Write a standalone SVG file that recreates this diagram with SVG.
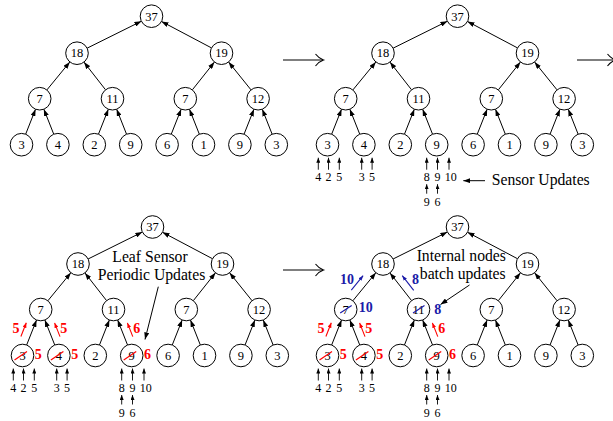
<svg xmlns="http://www.w3.org/2000/svg" xmlns:xlink="http://www.w3.org/1999/xlink" width="613" height="421" viewBox="0 0 613 421">
<defs>
<style>
.n circle{fill:#fff;stroke:#000;stroke-width:1}
.n text{font-family:"Liberation Serif",serif;font-size:12.5px;text-anchor:middle;fill:#000}
.e line{stroke:#000;stroke-width:1;marker-end:url(#ah)}
.sa line{stroke:#000;stroke-width:0.9;marker-end:url(#ahs)}
.sd text{font-family:"Liberation Serif",serif;font-size:12px;text-anchor:middle;fill:#000}
.lbl{font-family:"Liberation Serif",serif;font-size:15.7px;fill:#000}
.rt{font-family:"Liberation Serif",serif;font-size:14px;font-weight:bold;fill:#f00;text-anchor:middle}
.bt{font-family:"Liberation Serif",serif;font-size:14px;font-weight:bold;fill:#1a1aa8;text-anchor:middle}
.ra{stroke:#f00;stroke-width:1.1;marker-end:url(#ahr)}
.ba{stroke:#1a1aa8;stroke-width:1.1;marker-end:url(#ahb)}
.rs{stroke:#f00;stroke-width:1.2}
.bs{stroke:#1a1aa8;stroke-width:1.2}
.big{fill:none;stroke:#000;stroke-width:1.1}
</style>
<marker id="ah" markerUnits="userSpaceOnUse" markerWidth="7" markerHeight="5" refX="7" refY="2.5" orient="auto"><path d="M0,0 L7,2.5 L0,5 z" fill="#000"/></marker>
<marker id="ahs" markerUnits="userSpaceOnUse" markerWidth="5" markerHeight="4" refX="5" refY="2" orient="auto"><path d="M0,0 L5,2 L0,4 z" fill="#000"/></marker>
<marker id="ahr" markerUnits="userSpaceOnUse" markerWidth="5" markerHeight="4" refX="5" refY="2" orient="auto"><path d="M0,0 L5,2 L0,4 z" fill="#f00"/></marker>
<marker id="ahb" markerUnits="userSpaceOnUse" markerWidth="5" markerHeight="4" refX="5" refY="2" orient="auto"><path d="M0,0 L5,2 L0,4 z" fill="#1a1aa8"/></marker>
</defs>
<rect width="613" height="421" fill="#fff"/>

<g id="connectors">
<g class="e" transform="translate(21.5,16.2)">
<line x1="65.62" y1="31.97" x2="119.88" y2="5.03"/><line x1="190.01" y1="31.72" x2="139.99" y2="5.28"/>
<line x1="25.36" y1="73.76" x2="48.34" y2="45.74"/><line x1="84.05" y1="73.59" x2="62.45" y2="45.91"/>
<line x1="170.84" y1="73.66" x2="192.96" y2="45.84"/><line x1="229.52" y1="73.69" x2="207.08" y2="45.81"/>
<line x1="4.16" y1="117.99" x2="14.04" y2="93.01"/><line x1="32.24" y1="117.99" x2="22.36" y2="93.01"/>
<line x1="76.96" y1="117.99" x2="86.84" y2="93.01"/><line x1="105.04" y1="117.99" x2="95.16" y2="93.01"/>
<line x1="149.76" y1="117.99" x2="159.64" y2="93.01"/><line x1="177.84" y1="117.99" x2="167.96" y2="93.01"/>
<line x1="222.56" y1="117.99" x2="232.44" y2="93.01"/><line x1="250.64" y1="117.99" x2="240.76" y2="93.01"/>
</g>
<g class="e" transform="translate(327.5,16.2)">
<line x1="65.62" y1="31.97" x2="119.88" y2="5.03"/><line x1="190.01" y1="31.72" x2="139.99" y2="5.28"/>
<line x1="25.36" y1="73.76" x2="48.34" y2="45.74"/><line x1="84.05" y1="73.59" x2="62.45" y2="45.91"/>
<line x1="170.84" y1="73.66" x2="192.96" y2="45.84"/><line x1="229.52" y1="73.69" x2="207.08" y2="45.81"/>
<line x1="4.16" y1="117.99" x2="14.04" y2="93.01"/><line x1="32.24" y1="117.99" x2="22.36" y2="93.01"/>
<line x1="76.96" y1="117.99" x2="86.84" y2="93.01"/><line x1="105.04" y1="117.99" x2="95.16" y2="93.01"/>
<line x1="149.76" y1="117.99" x2="159.64" y2="93.01"/><line x1="177.84" y1="117.99" x2="167.96" y2="93.01"/>
<line x1="222.56" y1="117.99" x2="232.44" y2="93.01"/><line x1="250.64" y1="117.99" x2="240.76" y2="93.01"/>
</g>
<g class="e" transform="translate(22.5,227)">
<line x1="65.62" y1="31.97" x2="119.88" y2="5.03"/><line x1="190.01" y1="31.72" x2="139.99" y2="5.28"/>
<line x1="25.36" y1="73.76" x2="48.34" y2="45.74"/><line x1="84.05" y1="73.59" x2="62.45" y2="45.91"/>
<line x1="170.84" y1="73.66" x2="192.96" y2="45.84"/><line x1="229.52" y1="73.69" x2="207.08" y2="45.81"/>
<line x1="4.16" y1="117.99" x2="14.04" y2="93.01"/><line x1="32.24" y1="117.99" x2="22.36" y2="93.01"/>
<line x1="76.96" y1="117.99" x2="86.84" y2="93.01"/><line x1="105.04" y1="117.99" x2="95.16" y2="93.01"/>
<line x1="149.76" y1="117.99" x2="159.64" y2="93.01"/><line x1="177.84" y1="117.99" x2="167.96" y2="93.01"/>
<line x1="222.56" y1="117.99" x2="232.44" y2="93.01"/><line x1="250.64" y1="117.99" x2="240.76" y2="93.01"/>
</g>
<g class="e" transform="translate(327.5,227)">
<line x1="65.62" y1="31.97" x2="119.88" y2="5.03"/><line x1="190.01" y1="31.72" x2="139.99" y2="5.28"/>
<line x1="25.36" y1="73.76" x2="48.34" y2="45.74"/><line x1="84.05" y1="73.59" x2="62.45" y2="45.91"/>
<line x1="170.84" y1="73.66" x2="192.96" y2="45.84"/><line x1="229.52" y1="73.69" x2="207.08" y2="45.81"/>
<line x1="4.16" y1="117.99" x2="14.04" y2="93.01"/><line x1="32.24" y1="117.99" x2="22.36" y2="93.01"/>
<line x1="76.96" y1="117.99" x2="86.84" y2="93.01"/><line x1="105.04" y1="117.99" x2="95.16" y2="93.01"/>
<line x1="149.76" y1="117.99" x2="159.64" y2="93.01"/><line x1="177.84" y1="117.99" x2="167.96" y2="93.01"/>
<line x1="222.56" y1="117.99" x2="232.44" y2="93.01"/><line x1="250.64" y1="117.99" x2="240.76" y2="93.01"/>
</g>
</g>

<g id="tree1" transform="translate(21.5,16.2)">
<g id="t1-root" class="n"><circle cx="130" cy="0" r="11.3"/><text x="130" y="4.3">37</text></g>
<g id="t1-a" class="n"><circle cx="55.5" cy="37" r="11.3"/><text x="55.5" y="41.3">18</text></g>
<g id="t1-b" class="n"><circle cx="200" cy="37" r="11.3"/><text x="200" y="41.3">19</text></g>
<g id="t1-c" class="n"><circle cx="18.2" cy="82.5" r="11.3"/><text x="18.2" y="86.8">7</text></g>
<g id="t1-d" class="n"><circle cx="91" cy="82.5" r="11.3"/><text x="91" y="86.8">11</text></g>
<g id="t1-e" class="n"><circle cx="163.8" cy="82.5" r="11.3"/><text x="163.8" y="86.8">7</text></g>
<g id="t1-f" class="n"><circle cx="236.6" cy="82.5" r="11.3"/><text x="236.6" y="86.8">12</text></g>
<g id="t1-l0" class="n"><circle cx="0" cy="128.5" r="11.3"/><text x="0" y="132.8">3</text></g>
<g id="t1-l1" class="n"><circle cx="36.4" cy="128.5" r="11.3"/><text x="36.4" y="132.8">4</text></g>
<g id="t1-l2" class="n"><circle cx="72.8" cy="128.5" r="11.3"/><text x="72.8" y="132.8">2</text></g>
<g id="t1-l3" class="n"><circle cx="109.2" cy="128.5" r="11.3"/><text x="109.2" y="132.8">9</text></g>
<g id="t1-l4" class="n"><circle cx="145.6" cy="128.5" r="11.3"/><text x="145.6" y="132.8">6</text></g>
<g id="t1-l5" class="n"><circle cx="182" cy="128.5" r="11.3"/><text x="182" y="132.8">1</text></g>
<g id="t1-l6" class="n"><circle cx="218.4" cy="128.5" r="11.3"/><text x="218.4" y="132.8">9</text></g>
<g id="t1-l7" class="n"><circle cx="254.8" cy="128.5" r="11.3"/><text x="254.8" y="132.8">3</text></g>
</g>

<g id="tree2" transform="translate(327.5,16.2)">
<g id="t2-root" class="n"><circle cx="130" cy="0" r="11.3"/><text x="130" y="4.3">37</text></g>
<g id="t2-a" class="n"><circle cx="55.5" cy="37" r="11.3"/><text x="55.5" y="41.3">18</text></g>
<g id="t2-b" class="n"><circle cx="200" cy="37" r="11.3"/><text x="200" y="41.3">19</text></g>
<g id="t2-c" class="n"><circle cx="18.2" cy="82.5" r="11.3"/><text x="18.2" y="86.8">7</text></g>
<g id="t2-d" class="n"><circle cx="91" cy="82.5" r="11.3"/><text x="91" y="86.8">11</text></g>
<g id="t2-e" class="n"><circle cx="163.8" cy="82.5" r="11.3"/><text x="163.8" y="86.8">7</text></g>
<g id="t2-f" class="n"><circle cx="236.6" cy="82.5" r="11.3"/><text x="236.6" y="86.8">12</text></g>
<g id="t2-l0" class="n"><circle cx="0" cy="128.5" r="11.3"/><text x="0" y="132.8">3</text></g>
<g id="t2-l1" class="n"><circle cx="36.4" cy="128.5" r="11.3"/><text x="36.4" y="132.8">4</text></g>
<g id="t2-l2" class="n"><circle cx="72.8" cy="128.5" r="11.3"/><text x="72.8" y="132.8">2</text></g>
<g id="t2-l3" class="n"><circle cx="109.2" cy="128.5" r="11.3"/><text x="109.2" y="132.8">9</text></g>
<g id="t2-l4" class="n"><circle cx="145.6" cy="128.5" r="11.3"/><text x="145.6" y="132.8">6</text></g>
<g id="t2-l5" class="n"><circle cx="182" cy="128.5" r="11.3"/><text x="182" y="132.8">1</text></g>
<g id="t2-l6" class="n"><circle cx="218.4" cy="128.5" r="11.3"/><text x="218.4" y="132.8">9</text></g>
<g id="t2-l7" class="n"><circle cx="254.8" cy="128.5" r="11.3"/><text x="254.8" y="132.8">3</text></g>
<g id="t2-sensors">
<g class="sa">
<line x1="-9.2" y1="153.5" x2="-9.2" y2="141.5"/><line x1="1" y1="153.5" x2="1" y2="141.5"/><line x1="11.8" y1="153.5" x2="11.8" y2="141.5"/>
<line x1="34.2" y1="153.5" x2="34.2" y2="141.5"/><line x1="44.6" y1="153.5" x2="44.6" y2="141.5"/>
<line x1="99.2" y1="153.5" x2="99.2" y2="141.5"/><line x1="110" y1="153.5" x2="110" y2="141.5"/><line x1="121.5" y1="153.5" x2="121.5" y2="141.5"/>
<line x1="99.2" y1="177.5" x2="99.2" y2="168"/><line x1="110" y1="177.5" x2="110" y2="168"/>
</g>
<g class="sd">
<text x="-9.2" y="164.8">4</text><text x="1" y="164.8">2</text><text x="11.8" y="164.8">5</text>
<text x="34.2" y="164.8">3</text><text x="44.6" y="164.8">5</text>
<text x="99.2" y="164.8">8</text><text x="110" y="164.8">9</text><text x="123.2" y="164.8">10</text>
<text x="99.2" y="189.5">9</text><text x="110" y="189.5">6</text>
</g>
</g>
</g>

<g id="tree3" transform="translate(22.5,227)">
<g id="t3-root" class="n"><circle cx="130" cy="0" r="11.3"/><text x="130" y="4.3">37</text></g>
<g id="t3-a" class="n"><circle cx="55.5" cy="37" r="11.3"/><text x="55.5" y="41.3">18</text></g>
<g id="t3-b" class="n"><circle cx="200" cy="37" r="11.3"/><text x="200" y="41.3">19</text></g>
<g id="t3-c" class="n"><circle cx="18.2" cy="82.5" r="11.3"/><text x="18.2" y="86.8">7</text></g>
<g id="t3-d" class="n"><circle cx="91" cy="82.5" r="11.3"/><text x="91" y="86.8">11</text></g>
<g id="t3-e" class="n"><circle cx="163.8" cy="82.5" r="11.3"/><text x="163.8" y="86.8">7</text></g>
<g id="t3-f" class="n"><circle cx="236.6" cy="82.5" r="11.3"/><text x="236.6" y="86.8">12</text></g>
<g id="t3-l0" class="n"><circle cx="0" cy="128.5" r="11.3"/><text x="0" y="132.8">3</text><line class="rs" x1="-8" y1="133" x2="4.5" y2="124.5"/></g>
<g id="t3-l1" class="n"><circle cx="36.4" cy="128.5" r="11.3"/><text x="36.4" y="132.8">4</text><line class="rs" x1="28.4" y1="133" x2="40.9" y2="124.5"/></g>
<g id="t3-l2" class="n"><circle cx="72.8" cy="128.5" r="11.3"/><text x="72.8" y="132.8">2</text></g>
<g id="t3-l3" class="n"><circle cx="109.2" cy="128.5" r="11.3"/><text x="109.2" y="132.8">9</text><line class="rs" x1="101.2" y1="133" x2="113.7" y2="124.5"/></g>
<g id="t3-l4" class="n"><circle cx="145.6" cy="128.5" r="11.3"/><text x="145.6" y="132.8">6</text></g>
<g id="t3-l5" class="n"><circle cx="182" cy="128.5" r="11.3"/><text x="182" y="132.8">1</text></g>
<g id="t3-l6" class="n"><circle cx="218.4" cy="128.5" r="11.3"/><text x="218.4" y="132.8">9</text></g>
<g id="t3-l7" class="n"><circle cx="254.8" cy="128.5" r="11.3"/><text x="254.8" y="132.8">3</text></g>
<g id="t3-sensors">
<g class="sa">
<line x1="-9.2" y1="153.5" x2="-9.2" y2="141.5"/><line x1="1" y1="153.5" x2="1" y2="141.5"/><line x1="11.8" y1="153.5" x2="11.8" y2="141.5"/>
<line x1="34.2" y1="153.5" x2="34.2" y2="141.5"/><line x1="44.6" y1="153.5" x2="44.6" y2="141.5"/>
<line x1="99.2" y1="153.5" x2="99.2" y2="141.5"/><line x1="110" y1="153.5" x2="110" y2="141.5"/><line x1="121.5" y1="153.5" x2="121.5" y2="141.5"/>
<line x1="99.2" y1="177.5" x2="99.2" y2="168"/><line x1="110" y1="177.5" x2="110" y2="168"/>
</g>
<g class="sd">
<text x="-9.2" y="164.8">4</text><text x="1" y="164.8">2</text><text x="11.8" y="164.8">5</text>
<text x="34.2" y="164.8">3</text><text x="44.6" y="164.8">5</text>
<text x="99.2" y="164.8">8</text><text x="110" y="164.8">9</text><text x="123.2" y="164.8">10</text>
<text x="99.2" y="189.5">9</text><text x="110" y="189.5">6</text>
</g>
</g>
<g id="t3-updates">
<line class="ra" x1="-1.6" y1="109.5" x2="3.8" y2="95.8"/>
<line class="ra" x1="37.5" y1="109.6" x2="32.1" y2="95.9"/>
<line class="ra" x1="110.3" y1="109.6" x2="104.9" y2="95.9"/>
<text class="rt" x="-6.4" y="106">5</text><text class="rt" x="41.3" y="106">5</text><text class="rt" x="114.2" y="106">6</text>
<text class="rt" x="15.8" y="132">5</text><text class="rt" x="52.2" y="132">5</text><text class="rt" x="125" y="132">6</text>
</g>
</g>

<g id="tree4" transform="translate(327.5,227)">
<g id="t4-root" class="n"><circle cx="130" cy="0" r="11.3"/><text x="130" y="4.3">37</text></g>
<g id="t4-a" class="n"><circle cx="55.5" cy="37" r="11.3"/><text x="55.5" y="41.3">18</text></g>
<g id="t4-b" class="n"><circle cx="200" cy="37" r="11.3"/><text x="200" y="41.3">19</text></g>
<g id="t4-c" class="n"><circle cx="18.2" cy="82.5" r="11.3"/><text x="18.2" y="86.8">7</text><line class="bs" x1="12.7" y1="86" x2="24.2" y2="78.5"/></g>
<g id="t4-d" class="n"><circle cx="91" cy="82.5" r="11.3"/><text x="91" y="86.8">11</text><line class="bs" x1="85.5" y1="86" x2="97" y2="78.5"/></g>
<g id="t4-e" class="n"><circle cx="163.8" cy="82.5" r="11.3"/><text x="163.8" y="86.8">7</text></g>
<g id="t4-f" class="n"><circle cx="236.6" cy="82.5" r="11.3"/><text x="236.6" y="86.8">12</text></g>
<g id="t4-l0" class="n"><circle cx="0" cy="128.5" r="11.3"/><text x="0" y="132.8">3</text><line class="rs" x1="-8" y1="133" x2="4.5" y2="124.5"/></g>
<g id="t4-l1" class="n"><circle cx="36.4" cy="128.5" r="11.3"/><text x="36.4" y="132.8">4</text><line class="rs" x1="28.4" y1="133" x2="40.9" y2="124.5"/></g>
<g id="t4-l2" class="n"><circle cx="72.8" cy="128.5" r="11.3"/><text x="72.8" y="132.8">2</text></g>
<g id="t4-l3" class="n"><circle cx="109.2" cy="128.5" r="11.3"/><text x="109.2" y="132.8">9</text><line class="rs" x1="101.2" y1="133" x2="113.7" y2="124.5"/></g>
<g id="t4-l4" class="n"><circle cx="145.6" cy="128.5" r="11.3"/><text x="145.6" y="132.8">6</text></g>
<g id="t4-l5" class="n"><circle cx="182" cy="128.5" r="11.3"/><text x="182" y="132.8">1</text></g>
<g id="t4-l6" class="n"><circle cx="218.4" cy="128.5" r="11.3"/><text x="218.4" y="132.8">9</text></g>
<g id="t4-l7" class="n"><circle cx="254.8" cy="128.5" r="11.3"/><text x="254.8" y="132.8">3</text></g>
<g id="t4-sensors">
<g class="sa">
<line x1="-9.2" y1="153.5" x2="-9.2" y2="141.5"/><line x1="1" y1="153.5" x2="1" y2="141.5"/><line x1="11.8" y1="153.5" x2="11.8" y2="141.5"/>
<line x1="34.2" y1="153.5" x2="34.2" y2="141.5"/><line x1="44.6" y1="153.5" x2="44.6" y2="141.5"/>
<line x1="99.2" y1="153.5" x2="99.2" y2="141.5"/><line x1="110" y1="153.5" x2="110" y2="141.5"/><line x1="121.5" y1="153.5" x2="121.5" y2="141.5"/>
<line x1="99.2" y1="177.5" x2="99.2" y2="168"/><line x1="110" y1="177.5" x2="110" y2="168"/>
</g>
<g class="sd">
<text x="-9.2" y="164.8">4</text><text x="1" y="164.8">2</text><text x="11.8" y="164.8">5</text>
<text x="34.2" y="164.8">3</text><text x="44.6" y="164.8">5</text>
<text x="99.2" y="164.8">8</text><text x="110" y="164.8">9</text><text x="123.2" y="164.8">10</text>
<text x="99.2" y="189.5">9</text><text x="110" y="189.5">6</text>
</g>
</g>
<g id="t4-updates">
<line class="ra" x1="-1.6" y1="109.5" x2="3.8" y2="95.8"/>
<line class="ra" x1="37.5" y1="109.6" x2="32.1" y2="95.9"/>
<line class="ra" x1="110.3" y1="109.6" x2="104.9" y2="95.9"/>
<text class="rt" x="-6.4" y="106">5</text><text class="rt" x="41.3" y="106">5</text><text class="rt" x="114.2" y="106">6</text>
<text class="rt" x="15.8" y="132">5</text><text class="rt" x="52.2" y="132">5</text><text class="rt" x="125" y="132">6</text>
<line class="ba" x1="23.81" y1="63.03" x2="35.61" y2="48.65"/>
<line class="ba" x1="86.2" y1="63.34" x2="74.76" y2="48.68"/>
<text class="bt" x="19.6" y="56.8">10</text><text class="bt" x="88" y="56.8">8</text>
<text class="bt" x="38.2" y="85.3">10</text><text class="bt" x="110.3" y="87.3">8</text>
</g>
</g>

<g id="step-arrows">
<line class="big" x1="283" y1="60" x2="323" y2="60"/><path class="big" d="M315.5,54 Q319,58.5 323.5,60 Q319,61.5 315.5,66"/>
<line class="big" x1="577" y1="60" x2="615" y2="60"/><path class="big" d="M607.5,54 Q611,58.5 615.5,60 Q611,61.5 607.5,66"/>
<line class="big" x1="283" y1="270" x2="323" y2="270"/><path class="big" d="M315.5,264 Q319,268.5 323.5,270 Q319,271.5 315.5,276"/>
</g>

<g id="label-sensor-updates">
<line x1="485" y1="180.7" x2="463.3" y2="180.7" stroke="#000" stroke-width="1" marker-end="url(#ah)"/>
<text class="lbl" x="491.7" y="184.5">Sensor Updates</text>
</g>
<g id="label-leaf-sensor">
<text class="lbl" x="150" y="261.5" text-anchor="middle">Leaf Sensor</text>
<text class="lbl" x="151.5" y="279.5" text-anchor="middle">Periodic Updates</text>
<line x1="158.3" y1="286.7" x2="145" y2="339.5" stroke="#000" stroke-width="1" marker-end="url(#ah)"/>
</g>
<g id="label-internal-nodes">
<text class="lbl" x="461.3" y="261" text-anchor="middle">Internal nodes</text>
<text class="lbl" x="462.7" y="279" text-anchor="middle">batch updates</text>
<line x1="469.5" y1="285" x2="440.5" y2="304.5" stroke="#000" stroke-width="1" marker-end="url(#ah)"/>
</g>
</svg>
